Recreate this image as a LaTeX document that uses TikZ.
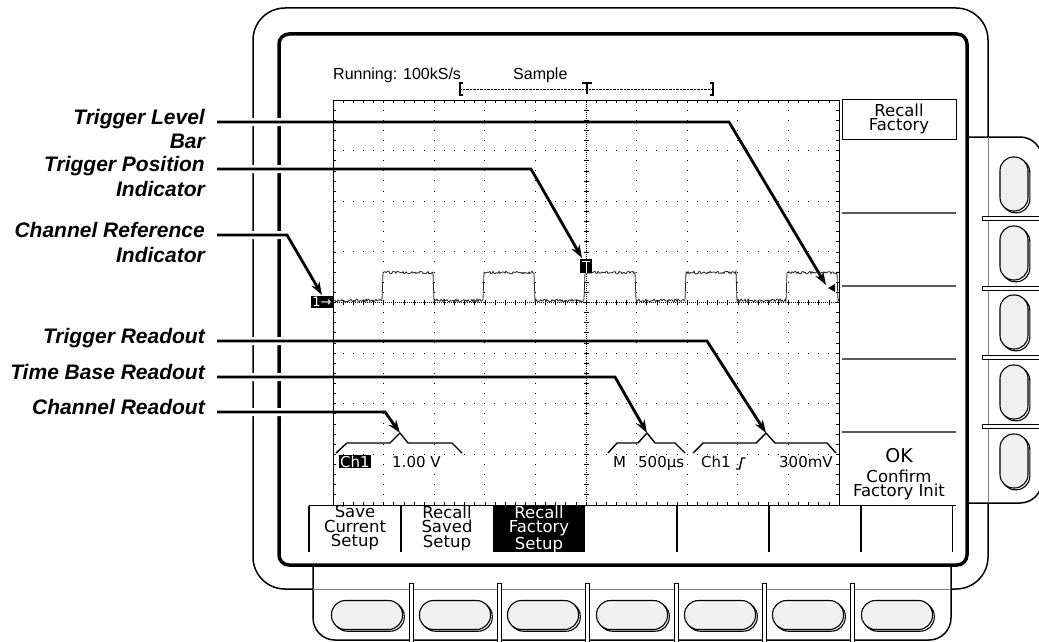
\documentclass[tikz,border=0pt]{standalone}
\usepackage{fontspec}
\setmainfont{Liberation Sans}
\newfontfamily\scrfont{DejaVu Sans}
\usetikzlibrary{arrows.meta,positioning}

\begin{document}
\begin{tikzpicture}[x=1pt,y=-1pt]
    \useasboundingbox (0,0) rectangle (1039,642);
    \tikzstyle{every node}=[inner sep=0pt]
    \tikzstyle{callout}=[anchor=mid east, font=\fontsize{21}{24}\selectfont\bfseries\itshape]
    \tikzstyle{leader}=[line width=2.8pt, -{Stealth[length=13pt,width=9pt]},
        preaction={draw=white, line width=8pt, -}]
    \tikzstyle{menu}=[anchor=north, align=center, font=\scrfont\fontsize{16.5}{14.5}\selectfont]
    \tikzstyle{readout}=[anchor=base west, font=\scrfont\fontsize{15}{15}\selectfont]
    \tikzstyle{knob}=[draw, line width=1.1pt, fill=gray!12, rounded corners=13.5pt]
    \tikzstyle{brace}=[line width=1.4pt, line join=round]

    % bezel and button panels
    \draw[line width=1.5pt, rounded corners=32pt] (253,8) rectangle (988,589);
    \draw[line width=1.5pt, fill=white, rounded corners=22pt] (967,137) -- (1042,137) -- (1042,503) -- (967,503);
    \draw[line width=1.5pt, fill=white, rounded corners=22pt] (313,565) -- (313,640) -- (951,640) -- (951,565);
    \draw[gray] (988,137) -- (988,503);
    \draw[gray] (313,589) -- (951,589);
    \foreach \y in {218,288,357,426}
        \draw[line width=1pt, fill=white] (982,{\y-2}) rectangle (1045,{\y+2});
    \foreach \x in {411,499,587,676,764,852}
        \draw[line width=1pt, fill=white] ({\x-2},583) rectangle ({\x+2},650);
    \foreach \y [count=\i] in {184,253,322,392,461} {
        \draw[line width=1.1pt, rounded corners=13.5pt] (1001.8,{\y-25.2}) rectangle (1029.8,{\y+28.8});
        \node[knob, minimum width=28pt, minimum height=54pt] (sk\i) at (1014,\y) {};
    }
    \foreach \x [count=\i] in {367,455,543,632,720,808,897} {
        \draw[line width=1.1pt, rounded corners=14pt] ({\x-33.7},602.2) rectangle ({\x+37.3},631.2);
        \node[knob, minimum width=71pt, minimum height=29pt, rounded corners=14pt] (bk\i) at (\x,615) {};
    }
    \draw[line width=3.5pt, rounded corners=10pt] (279,34) rectangle (967,565);

    % targets of the callouts
    \coordinate (lvl-tip) at (826,285);
    \coordinate (pos-tip) at (582,258);
    \coordinate (ref-tip) at (322,295);
    \coordinate (ch-pk)  at (400,433);
    \coordinate (tb-pk)  at (647,433);
    \coordinate (trg-pk) at (766,433);

    % callouts
    \node[callout] (lvl)  at (205,122) {Trigger Level};
    \node[callout] (lvl2) at (205,146) {Bar};
    \node[callout] (pos)  at (205,169) {Trigger Position};
    \node[callout] (pos2) at (205,194) {Indicator};
    \node[callout] (ref)  at (205,235) {Channel Reference};
    \node[callout] (ref2) at (205,260) {Indicator};
    \node[callout] (trg)  at (205,341) {Trigger Readout};
    \node[callout] (tb)   at (205,377) {Time Base Readout};
    \node[callout] (chr)  at (205,412) {Channel Readout};
    \draw[leader] ([xshift=12pt]lvl.mid east) -- (729,122) -- (lvl-tip);
    \draw[leader] ([xshift=12pt]pos.mid east) -- (531,169) -- (pos-tip);
    \draw[leader] ([xshift=12pt]ref.mid east) -- (287,235) -- (ref-tip);
    \draw[leader] ([xshift=12pt]trg.mid east) -- (707,341) -- (trg-pk);
    \draw[leader] ([xshift=12pt]tb.mid east) -- (615,377) -- (tb-pk);
    \draw[leader] ([xshift=12pt]chr.mid east) -- (385,412) -- (ch-pk);

    % status line and record view
    \node[anchor=base west, font=\fontsize{16}{16}\selectfont] (run) at (333,79) {Running: 100kS/s};
    \node[anchor=base west, font=\fontsize{16}{16}\selectfont] (acq) at (513,79) {Sample};
    \draw[line width=0.6pt, dash pattern=on 0.7pt off 0.7pt] (460,89) -- (713,89);
    \draw[line width=1.2pt] (463,83) -| (460,95) -- (463,95);
    \draw[line width=1.2pt] (710,83) -| (713,95) -- (710,95);
    \draw[line width=1.6pt] (582,83) -- (592,83) (587,83) -- (587,94);

    % graticule
    \draw[line width=1pt] (333,100) rectangle (839,505);
    \foreach \i in {1,2,3,4,6,7,8,9}
        \foreach \j in {1,...,39}
            \fill ({333+50.6*\i-0.5},{100+10.12*\j-0.5}) rectangle +(1,1);
    \foreach \j in {1,2,3,5,6,7}
        \foreach \i in {1,...,49}
            \fill ({333+10.12*\i-0.5},{100+50.6*\j-0.5}) rectangle +(1,1);
    \draw[line width=0.6pt, dash pattern=on 0.8pt off 1.2pt] (586,100) -- (586,505) (333,302.4) -- (839,302.4);
    \foreach \k in {1,...,49}
        \draw[line width=0.6pt] ({333+10.12*\k},100) -- +(0,3) ({333+10.12*\k},505) -- +(0,-3)
            ({333+10.12*\k},300) -- +(0,5);
    \foreach \k in {1,...,39}
        \draw[line width=0.6pt] (333,{100+10.12*\k}) -- +(3,0) (839,{100+10.12*\k}) -- +(-3,0)
            (583.5,{100+10.12*\k}) -- +(5,0);

    % waveform
    \pgfmathsetseed{7}
    \draw[line width=0.8pt, black!85] plot[domain=333:839, samples=507, variable=\t]
        (\t, {300.5 - 28*(mod(\t+627,101)<50.5) + 1.4*rand});

    % markers
    \node[fill=black, text=white, font=\scrfont\fontsize{13}{13}\selectfont, inner sep=1pt] (ref-mark) at (322,302) {1→};
    \node[fill=black, minimum width=12pt, minimum height=14pt] (pos-mark) at (586,266) {};
    \draw[white, line width=1pt] (582,261.5) -- (590,261.5) (586,261.5) -- (586,273);
    \fill (828,288) -- (835,284) -- (835,292) -- cycle;

    % readouts
    \node[readout, fill=black, text=white, inner sep=1pt] (ch-box) at (339,467) {Ch1};
    \node[readout] (ch-scale) at (392,467) {1.00 V};
    \node[readout] (tb-m) at (613,467) {M};
    \node[readout] (tb-val) at (638,467) {500µs};
    \node[readout] (trg-src) at (701,467) {Ch1};
    \draw[line width=1.4pt] (736,469) -- (739.5,469) -- (742,458) -- (745.5,458);
    \node[readout] (trg-val) at (779,467) {300mV};
    \draw[brace] (336,453) -- (347,443) -- (390,443) -- (ch-pk) -- (408,443) -- (452,443) -- (462,453);
    \draw[brace] (608,453) -- (617,443) -- (638,443) -- (tb-pk) -- (655,443) -- (675,443) -- (685,453);
    \draw[brace] (693,453) -- (703,443) -- (756,443) -- (trg-pk) -- (775,443) -- (827,443) -- (836,453);

    % side menu
    \draw (842,99) rectangle (956,139);
    \node[menu] (rm1) at (899,103.5) {Recall\\Factory};
    \foreach \y in {213,286,359,432}
        \draw[line width=1.2pt, black!65] (842,\y) -- (956,\y);
    \node[anchor=base, font=\scrfont\fontsize{19}{19}\selectfont] (ok) at (899,462) {OK};
    \node[menu] (rm5) at (899,469.5) {Confirm\\Factory Init};

    % bottom menu
    \draw[line width=1.3pt] (309,505.5) -- (956,505.5);
    \fill (493,505.5) rectangle (585,552);
    \foreach \x/\w in {309/1.2,401/2,677/2,769/2,861/2,952/1}
        \draw[line width=\w pt] (\x,505.5) -- (\x,552);
    \node[menu] (bm1) at (355,505.5) {Save\\Current\\Setup};
    \node[menu] (bm2) at (447,505.5) {Recall\\Saved\\Setup};
    \node[menu, text=white] (bm3) at (539,505.5) {Recall\\Factory\\Setup};
\end{tikzpicture}
\end{document}
